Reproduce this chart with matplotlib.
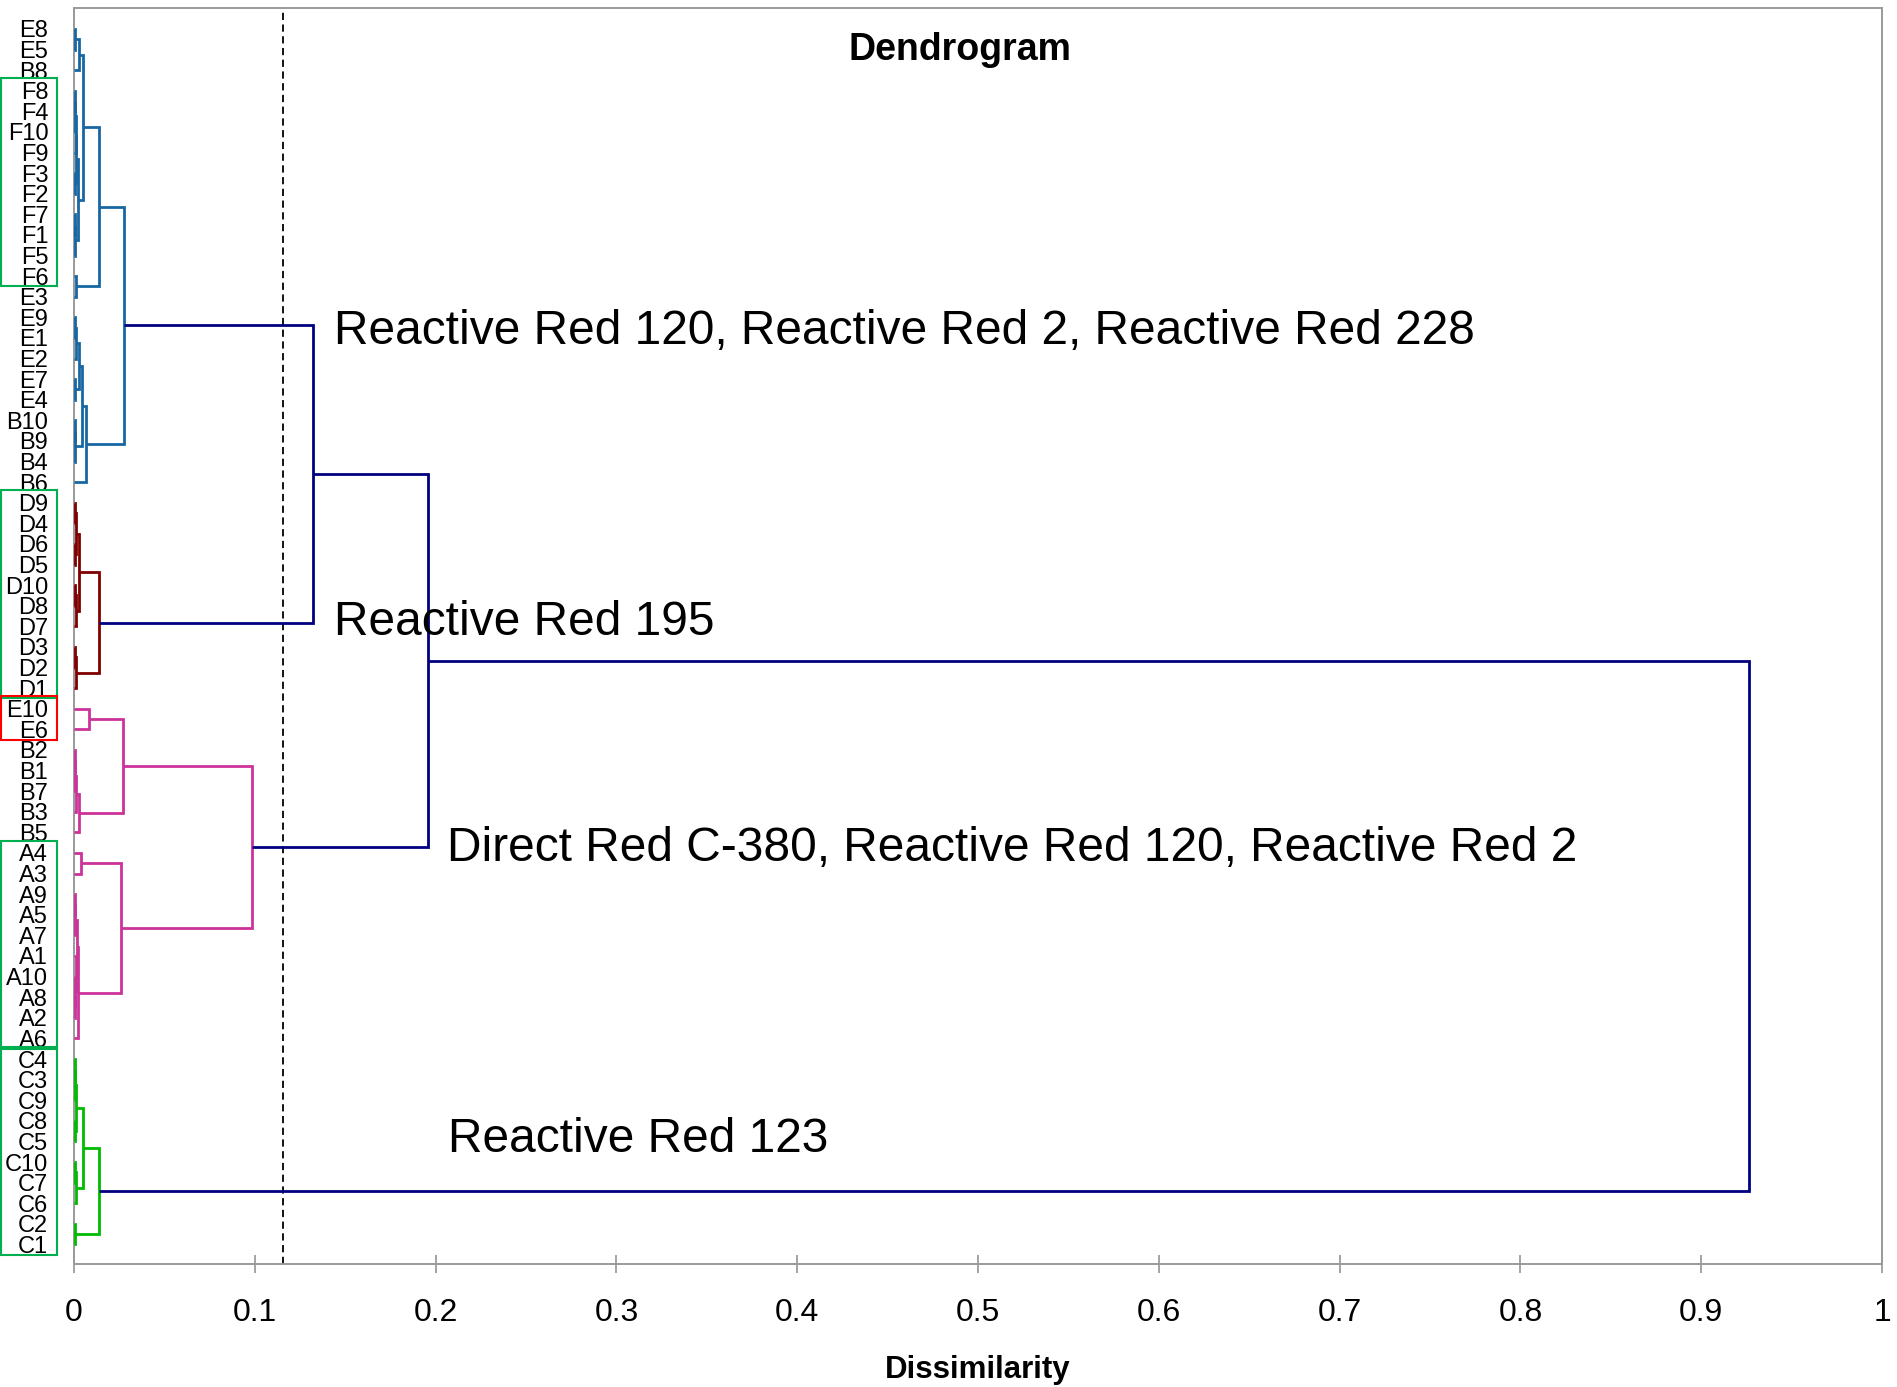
import matplotlib
matplotlib.use("Agg")
import matplotlib.pyplot as plt
from matplotlib.patches import Rectangle

plt.rcParams["font.family"] = ["Liberation Sans", "DejaVu Sans"]

# ---------------- data ----------------
leaves = ["E8", "E5", "B8", "F8", "F4", "F10", "F9", "F3", "F2", "F7", "F1", "F5", "F6",
          "E3", "E9", "E1", "E2", "E7", "E4", "B10", "B9", "B4", "B6",
          "D9", "D4", "D6", "D5", "D10", "D8", "D7", "D3", "D2", "D1",
          "E10", "E6", "B2", "B1", "B7", "B3", "B5",
          "A4", "A3", "A9", "A5", "A7", "A1", "A10", "A8", "A2", "A6",
          "C4", "C3", "C9", "C8", "C5", "C10", "C7", "C6", "C2", "C1"]

# (node, left, right, dissimilarity)
merges_blue = [
    ("m1", "E8", "E5", 0.0006), ("m2", "m1", "B8", 0.0030),
    ("m3", "F8", "F4", 0.0003), ("m4", "m3", "F10", 0.0006), ("m5", "m4", "F9", 0.0009),
    ("m6", "F3", "F2", 0.0004), ("m7", "m5", "m6", 0.0012),
    ("m8", "F7", "F1", 0.0003), ("m9", "m8", "F5", 0.0007),
    ("m10", "m7", "m9", 0.0024), ("m11", "m2", "m10", 0.0049),
    ("m12", "F6", "E3", 0.0011), ("m13", "m11", "m12", 0.0139),
    ("m14", "E9", "E1", 0.0004), ("m15", "m14", "E2", 0.0009),
    ("m16", "E7", "E4", 0.0005), ("m17", "m15", "m16", 0.0026),
    ("m18", "B10", "B9", 0.0003), ("m19", "m18", "B4", 0.0008),
    ("m20", "m17", "m19", 0.0045), ("m21", "m20", "B6", 0.0064),
    ("m22", "m13", "m21", 0.0278),
]
merges_darkred = [
    ("n1", "D9", "D4", 0.0004), ("n2", "D6", "D5", 0.0006), ("n3", "n1", "n2", 0.0012),
    ("n4", "D10", "D8", 0.0004), ("n5", "n4", "D7", 0.0009), ("n6", "n3", "n5", 0.0026),
    ("n7", "D3", "D2", 0.0005), ("n8", "n7", "D1", 0.0009), ("n9", "n6", "n8", 0.0139),
]
merges_pink = [
    ("p1", "E10", "E6", 0.0083),
    ("p2", "B2", "B1", 0.0003), ("p3", "p2", "B7", 0.0008), ("p4", "p3", "B3", 0.0012),
    ("p5", "p4", "B5", 0.0027), ("p6", "p1", "p5", 0.0271),
    ("p7", "A4", "A3", 0.0039),
    ("p8", "A9", "A5", 0.0004), ("p9", "p8", "A7", 0.0008),
    ("p10", "A8", "A2", 0.0003), ("p11", "A10", "p10", 0.0007), ("p12", "A1", "p11", 0.0011),
    ("p13", "p9", "p12", 0.0015), ("p14", "p13", "A6", 0.0023),
    ("p15", "p7", "p14", 0.0258), ("p16", "p6", "p15", 0.0982),
]
merges_green = [
    ("g1", "C4", "C3", 0.0004), ("g2", "g1", "C9", 0.0008), ("g3", "C8", "C5", 0.0005),
    ("g4", "g2", "g3", 0.0013), ("g5", "C10", "C7", 0.0004), ("g6", "g5", "C6", 0.0009),
    ("g7", "g4", "g6", 0.0052), ("g8", "C2", "C1", 0.0006), ("g9", "g7", "g8", 0.0139),
]
merges_top = [
    ("t1", "m22", "n9", 0.1324), ("t2", "t1", "p16", 0.1960), ("t3", "t2", "g9", 0.9267),
]

cut_level = 0.1154

x_ticks = [0, 0.1, 0.2, 0.3, 0.4, 0.5, 0.6, 0.7, 0.8, 0.9, 1]
x_tick_labels = ["0", "0.1", "0.2", "0.3", "0.4", "0.5", "0.6", "0.7", "0.8", "0.9", "1"]

# (first leaf, last leaf, colour)
label_boxes = [("F8", "F6", "#00b050"), ("D9", "D1", "#00b050"), ("E10", "E6", "#ff0000"),
               ("A4", "A6", "#00b050"), ("C4", "C1", "#00b050")]

# (x, y, text)
annotations = [
    (0.1440, 15.3, "Reactive Red 120, Reactive Red 2, Reactive Red 228"),
    (0.1440, 29.4, "Reactive Red 195"),
    (0.2065, 40.4, "Direct Red C-380, Reactive Red 120, Reactive Red 2"),
    (0.2067, 54.5, "Reactive Red 123"),
]

group_merges = [(merges_blue, "#1767a3"), (merges_darkred, "#800000"),
                (merges_pink, "#cc3399"), (merges_green, "#00bb00"), (merges_top, "#000080")]

# ---------------- figure ----------------
fig = plt.figure(figsize=(18.97, 13.87), dpi=100)
ax = fig.add_axes([74 / 1897, 1 - 1264 / 1387, 1808 / 1897, (1264 - 8.3) / 1387])

pos = {name: i for i, name in enumerate(leaves)}
hgt = {name: 0.0 for name in leaves}
for merges, col in group_merges:
    for node, left, right, h in merges:
        pos[node] = (pos[left] + pos[right]) / 2
        hgt[node] = h
        ax.plot([hgt[left], h, h, hgt[right]], [pos[left], pos[left], pos[right], pos[right]],
                color=col, lw=2.0, solid_joinstyle="miter", solid_capstyle="butt", zorder=3)

ax.axvline(cut_level, color="black", lw=1.3, ls=(0, (4, 2.5)), zorder=2)

ax.set_xlim(0, 1)
ax.set_ylim(59.95, -1.0)
ax.set_xticks(x_ticks)
ax.set_xticklabels(x_tick_labels, fontsize=23)
ax.set_yticks(range(len(leaves)))
ax.set_yticklabels(leaves, fontsize=17)
ax.tick_params(axis="x", direction="inout", length=13.2, width=1.1, color="#8c8c8c", pad=18)
ax.tick_params(axis="y", length=0, pad=18.5)

for sp in ax.spines.values():
    sp.set_color("#9a9a9a")
    sp.set_linewidth(1.4)
    sp.set_zorder(2.5)

ax.set_xlabel("Dissimilarity", fontsize=22.5, fontweight="bold")
ax.xaxis.set_label_coords(0.5, -0.091)
ax.xaxis.label.set_verticalalignment("baseline")

ax.text(0.49, 1.5, "Dendrogram", fontsize=27, fontweight="bold", ha="center", va="baseline")

for x, y, s in annotations:
    ax.text(x, y, s, fontsize=34.5, ha="left", va="baseline")

btrans = ax.get_yaxis_transform()
for first, last, col in label_boxes:
    i0, i1 = pos[first], pos[last]
    ax.add_patch(Rectangle((-0.0403, i0 - 0.6), 0.0311, (i1 - i0) + 1.1, transform=btrans,
                           fill=False, edgecolor=col, lw=1.5, clip_on=False, zorder=4))

fig.savefig("out.png", dpi=100)
